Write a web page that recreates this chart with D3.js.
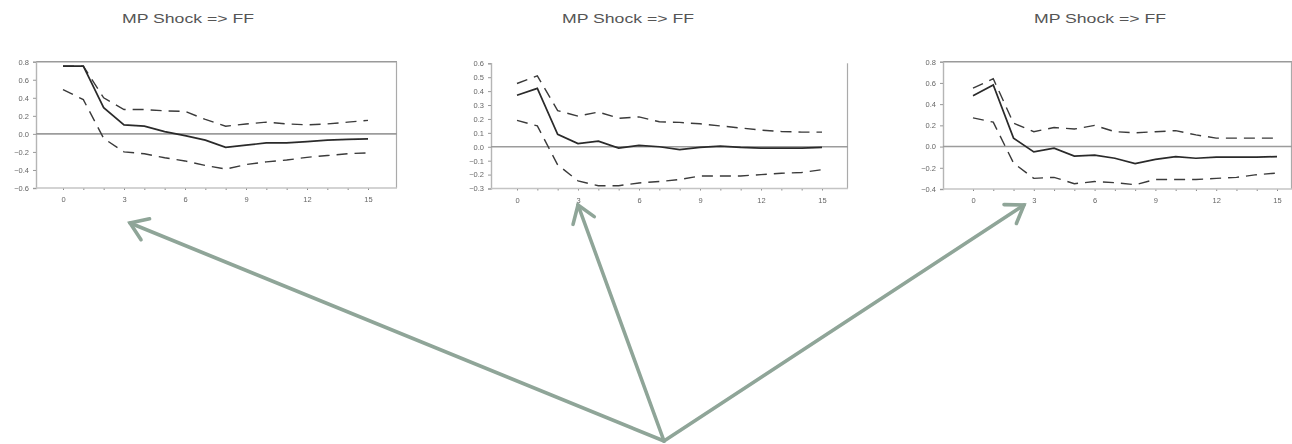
<!DOCTYPE html>
<html>
<head>
<meta charset="utf-8">
<script src="https://cdn.jsdelivr.net/npm/d3@7"></script>
<style>
  body { margin: 0; background: #fff; }
  svg { display: block; font-family: "Liberation Sans", Arial, sans-serif; }
</style>
</head>
<body>
<svg id="chart" width="1292" height="444"></svg>
<script>
// horizons (quarters after the shock)
var steps = [0, 1, 2, 3, 4, 5, 6, 7, 8, 9, 10, 11, 12, 13, 14, 15];
var xTickLabels = [0, 3, 6, 9, 12, 15];
var titles = ["MP Shock => FF", "MP Shock => FF", "MP Shock => FF"];

// panel 1
var irf1 = [0.75, 0.75, 0.29, 0.10, 0.085, 0.025, -0.02, -0.07, -0.15, -0.125, -0.10, -0.10, -0.085, -0.07, -0.06, -0.055];
var up1 = [0.75, 0.75, 0.40, 0.27, 0.27, 0.255, 0.25, 0.16, 0.085, 0.11, 0.13, 0.11, 0.10, 0.11, 0.13, 0.15];
var lo1 = [0.49, 0.38, -0.05, -0.20, -0.22, -0.265, -0.30, -0.35, -0.39, -0.34, -0.31, -0.29, -0.26, -0.24, -0.22, -0.21];
var yTicks1 = [-0.6, -0.4, -0.2, 0.0, 0.2, 0.4, 0.6, 0.8];

// panel 2
var irf2 = [0.37, 0.42, 0.09, 0.023, 0.04, -0.01, 0.01, 0.0, -0.02, -0.005, 0.005, -0.005, -0.01, -0.01, -0.01, -0.005];
var up2 = [0.455, 0.51, 0.26, 0.22, 0.25, 0.205, 0.215, 0.18, 0.175, 0.165, 0.15, 0.135, 0.12, 0.11, 0.105, 0.105];
var lo2 = [0.19, 0.15, -0.13, -0.245, -0.28, -0.28, -0.26, -0.25, -0.235, -0.21, -0.21, -0.21, -0.20, -0.19, -0.185, -0.165];
var yTicks2 = [-0.3, -0.2, -0.1, 0.0, 0.1, 0.2, 0.3, 0.4, 0.5, 0.6];

// panel 3
var irf3 = [0.48, 0.58, 0.08, -0.05, -0.015, -0.09, -0.08, -0.11, -0.16, -0.12, -0.095, -0.11, -0.10, -0.10, -0.10, -0.095];
var up3 = [0.55, 0.64, 0.22, 0.14, 0.18, 0.165, 0.20, 0.14, 0.13, 0.14, 0.15, 0.11, 0.08, 0.08, 0.08, 0.08];
var lo3 = [0.27, 0.23, -0.155, -0.30, -0.29, -0.35, -0.33, -0.34, -0.36, -0.31, -0.31, -0.31, -0.30, -0.29, -0.265, -0.25];
var yTicks3 = [-0.4, -0.2, 0.0, 0.2, 0.4, 0.6, 0.8];

(function() {
  var svg = d3.select("#chart");

  var defs = svg.append("defs");
  defs.append("filter").attr("id", "soft")
    .append("feGaussianBlur").attr("stdDeviation", 0.45);

  var panels = [
    { title: titles[0], titleX: 188, irf: irf1, up: up1, lo: lo1, ticks: yTicks1, fmt: d3.format(".1f"),
      left: 36, right: 397, x0: 63, x15: 368, top: 61.7, bottom: 188, ymin: -0.6, ymax: 0.8, box: true },
    { title: titles[1], titleX: 628, irf: irf2, up: up2, lo: lo2, ticks: yTicks2, fmt: d3.format(".1f"),
      left: 491, right: 848, x0: 517, x15: 822, top: 63.3, bottom: 188.5, ymin: -0.3, ymax: 0.6, box: false },
    { title: titles[2], titleX: 1100, irf: irf3, up: up3, lo: lo3, ticks: yTicks3, fmt: d3.format(".1f"),
      left: 943, right: 1292, x0: 973, x15: 1277, top: 61.7, bottom: 189, ymin: -0.4, ymax: 0.8, box: true }
  ];

  panels.forEach(function(p) {
    svg.append("text")
      .attr("x", p.titleX)
      .attr("y", 23)
      .attr("text-anchor", "middle")
      .attr("font-size", 13.5)
      .attr("fill", "#555")
      .attr("textLength", 132)
      .attr("lengthAdjust", "spacingAndGlyphs")
      .text(p.title);

    var g = svg.append("g").attr("filter", "url(#soft)");
    var x = d3.scaleLinear().domain([0, 15]).range([p.x0, p.x15]);
    var y = d3.scaleLinear().domain([p.ymin, p.ymax]).range([p.bottom, p.top]);

    // frame
    if (p.box) {
      g.append("line")
        .attr("x1", p.left).attr("x2", p.right)
        .attr("y1", p.top).attr("y2", p.top)
        .attr("stroke", "#9a9a9a").attr("stroke-width", 1.5);
    }
    g.append("line")
      .attr("x1", p.right - 0.5).attr("x2", p.right - 0.5)
      .attr("y1", p.top).attr("y2", p.bottom)
      .attr("stroke", "#aaa").attr("stroke-width", 1.2);

    // y axis
    var yAxis = d3.axisLeft(y).tickValues(p.ticks).tickFormat(p.fmt).tickSize(3).tickPadding(4);
    var ya = g.append("g").attr("transform", "translate(" + p.left + ",0)").call(yAxis);
    ya.select(".domain").attr("stroke", "#b5b5b5").attr("stroke-width", 1.4);
    ya.selectAll(".tick line").attr("stroke", "#999");
    ya.selectAll(".tick text").attr("font-size", 7.5).attr("fill", "#666")
      .attr("font-family", "'Liberation Sans', Arial, sans-serif");

    // x axis, minor tick every step and labels every third
    var xAxis = d3.axisBottom(x).tickValues(steps).tickSize(2)
      .tickFormat(function(d) { return xTickLabels.indexOf(d) >= 0 ? d : ""; }).tickPadding(7);
    var xa = g.append("g").attr("transform", "translate(0," + p.bottom + ")").call(xAxis);
    xa.select(".domain").remove();
    xa.append("line")
      .attr("x1", p.left).attr("x2", p.right)
      .attr("stroke", "#c4c4c4").attr("stroke-width", 1.6);
    xa.selectAll(".tick line").attr("stroke", "#888");
    xa.selectAll(".tick text").attr("font-size", 7.5).attr("fill", "#666")
      .attr("font-family", "'Liberation Sans', Arial, sans-serif");

    // zero line
    g.append("line")
      .attr("x1", p.left).attr("x2", p.right)
      .attr("y1", y(0)).attr("y2", y(0))
      .attr("stroke", "#9c9c9c").attr("stroke-width", 1.6);

    var line = d3.line()
      .x(function(d, i) { return x(steps[i]); })
      .y(function(d) { return y(d); });

    g.append("path").datum(p.up)
      .attr("d", line).attr("fill", "none")
      .attr("stroke", "#3a3a3a").attr("stroke-width", 1.4)
      .attr("stroke-dasharray", "11,7");
    g.append("path").datum(p.lo)
      .attr("d", line).attr("fill", "none")
      .attr("stroke", "#3a3a3a").attr("stroke-width", 1.4)
      .attr("stroke-dasharray", "11,7");
    g.append("path").datum(p.irf)
      .attr("d", line).attr("fill", "none")
      .attr("stroke", "#2a2a2a").attr("stroke-width", 1.7);
  });

  // annotation arrows pointing at the three panels
  var origin = [664, 441];
  var targets = [[130, 223], [578, 205], [1024, 205]];
  var ag = svg.append("g")
    .attr("stroke", "#8fa598")
    .attr("stroke-width", 3.6)
    .attr("stroke-linecap", "round")
    .attr("fill", "none");
  targets.forEach(function(t) {
    var ang = Math.atan2(origin[1] - t[1], origin[0] - t[0]);
    var len = 20, spread = 0.6;
    ag.append("line")
      .attr("x1", origin[0]).attr("y1", origin[1])
      .attr("x2", t[0]).attr("y2", t[1]);
    ag.append("path")
      .attr("d", d3.line()([
        [t[0] + len * Math.cos(ang + spread), t[1] + len * Math.sin(ang + spread)],
        t,
        [t[0] + len * Math.cos(ang - spread), t[1] + len * Math.sin(ang - spread)]
      ]));
  });
})();
</script>
</body>
</html>
